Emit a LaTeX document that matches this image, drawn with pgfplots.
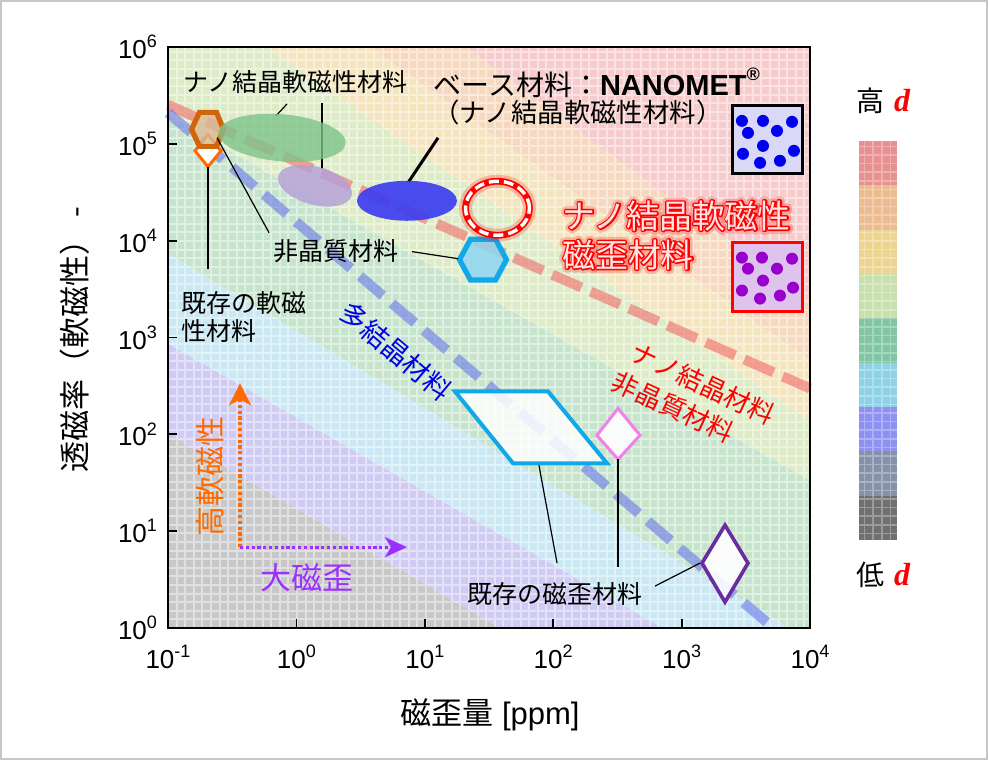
\documentclass[border=0pt]{standalone}
\usepackage{pgfplots}
\pgfplotsset{compat=1.18}
\usepackage{fontspec}
\setmainfont{Liberation Sans}
\newfontfamily\jp{Noto Sans CJK JP}
\newfontfamily\dserif{Liberation Serif}
\usetikzlibrary{arrows.meta}

\definecolor{bgGray}{HTML}{C8C8C8}
\definecolor{bgLav}{HTML}{CFCBF3}
\definecolor{bgLBlue}{HTML}{CAE7F4}
\definecolor{bgGreen}{HTML}{C6E4CC}
\definecolor{bgLGreen}{HTML}{DDEBC7}
\definecolor{bgYellow}{HTML}{F4E5BE}
\definecolor{bgOrange}{HTML}{F6D8BE}
\definecolor{bgPink}{HTML}{F6CBCB}
\definecolor{lineRed}{HTML}{F06A6A}
\definecolor{lineBlue}{HTML}{6A78E8}
\definecolor{hexOrange}{HTML}{D2650A}
\definecolor{hexOrangeFill}{HTML}{D9B995}
\definecolor{softOrange}{HTML}{FF6A00}
\definecolor{hexCyan}{HTML}{10A8E8}
\definecolor{hexCyanFill}{HTML}{8ED6F2}
\definecolor{ellGreen}{HTML}{7DC48A}
\definecolor{ellPurple}{HTML}{B4A0D8}
\definecolor{ellBlue}{HTML}{3E3EF0}
\definecolor{dmPink}{HTML}{F27FEA}
\definecolor{dmPurple}{HTML}{6A2C9E}
\definecolor{txtBlue}{HTML}{0000E6}
\definecolor{arrPurple}{HTML}{9B30FF}
\definecolor{dotBlue}{HTML}{0000F0}
\definecolor{dotPurple}{HTML}{9A00CC}
\definecolor{boxBlue}{HTML}{D9D9F7}
\definecolor{boxPurple}{HTML}{DEC4EC}
\definecolor{cbA}{HTML}{E89090}
\definecolor{cbB}{HTML}{ECBB8F}
\definecolor{cbC}{HTML}{EDD590}
\definecolor{cbD}{HTML}{C9E0AE}
\definecolor{cbE}{HTML}{80C6A2}
\definecolor{cbF}{HTML}{8FD2E8}
\definecolor{cbG}{HTML}{8E90F2}
\definecolor{cbH}{HTML}{8590AA}
\definecolor{cbI}{HTML}{707070}

\newcommand{\tsp}[1]{\raisebox{0.42em}{\fontsize{9}{9}\selectfont #1}}
\newcommand{\redtxt}{\jp\fontsize{16.4}{16.4}\selectfont}
% outlined text through the PDF text render mode
\newcommand{\strokeon}[1]{\special{pdf:literal direct 1 Tr #1 w 1 j}}
\newcommand{\strokeoff}{\special{pdf:literal direct 0 Tr}}

\begin{document}
\begin{tikzpicture}
\useasboundingbox (-84pt,-66pt) rectangle (410pt,314pt);
\draw[black!22, line width=1pt] (-83.5pt,-65.5pt) rectangle (409.5pt,313.5pt);
\begin{axis}[
  at={(0pt,0pt)}, anchor=south west,
  width=321pt, height=290.5pt, scale only axis,
  xmin=-1, xmax=4, ymin=0, ymax=6,
  xtick={-1,0,1,2,3,4}, ytick={0,1,2,3,4,5,6},
  xticklabels={10\tsp{-1},10\tsp{0},10\tsp{1},10\tsp{2},10\tsp{3},10\tsp{4}},
  yticklabels={10\tsp{0},10\tsp{1},10\tsp{2},10\tsp{3},10\tsp{4},10\tsp{5},10\tsp{6}},
  tick align=inside, tick pos=left,
  major tick length=4.5pt,
  every tick/.style={black, line width=0.9pt},
  axis line style={black, line width=1pt},
  ticklabel style={font=\fontsize{13}{13}\selectfont},
  xticklabel style={yshift=-5pt},
  yticklabel style={xshift=-2pt},
  xlabel={{\jp 磁歪量} [ppm]},
  ylabel={透磁率（軟磁性） -},
  xlabel style={font=\fontsize{15.5}{15.5}\selectfont, at={(axis description cs:0.5016,-0.15)}, anchor=center},
  ylabel style={font=\jp\fontsize{15.5}{15.5}\selectfont, at={(axis description cs:-0.145,0.496)}, anchor=center},
  clip=false,
  axis on top,
]
% background bands (d contours)
\addplot[fill=bgGray, draw=none] coordinates {(-1,0) (-1,2.010) (1.586,0)} -- cycle;
\addplot[fill=bgLav, draw=none] coordinates {(-1,2.010) (-1,2.938) (2.855,0) (1.586,0)} -- cycle;
\addplot[fill=bgLBlue, draw=none] coordinates {(-1,2.938) (-1,3.866) (3.844,0) (2.855,0)} -- cycle;
\addplot[fill=bgGreen, draw=none] coordinates {(-1,3.866) (-1,5.289) (4,1.526) (4,0) (3.844,0)} -- cycle;
\addplot[fill=bgLGreen, draw=none] coordinates {(-1,5.289) (-1,6) (-0.237,6) (4,2.144) (4,1.526)} -- cycle;
\addplot[fill=bgYellow, draw=none] coordinates {(-0.237,6) (0.573,6) (4,2.763) (4,2.144)} -- cycle;
\addplot[fill=bgOrange, draw=none] coordinates {(0.573,6) (1.313,6) (4,3.381) (4,2.763)} -- cycle;
\addplot[fill=bgPink, draw=none] coordinates {(1.313,6) (4,6) (4,3.381)} -- cycle;
\draw[white, line width=1pt, opacity=0.45, step=4.3pt] (axis cs:-1,0) grid (axis cs:4,6);

% boundary lines
\addplot[lineRed, opacity=0.6, line width=5pt, dash pattern=on 16pt off 5pt] coordinates {(-1,5.402) (4,2.474)};
\addplot[lineBlue, opacity=0.6, line width=5pt, dash pattern=on 15pt off 6pt] coordinates {(-1,5.320) (3.689,0.03)};

% material regions
\addplot[only marks, mark=*, color=ellGreen, mark size=11.75pt, mark options={draw opacity=0, fill=ellGreen, fill opacity=0.8, rotate=-5, xscale=2.72}] coordinates {(-0.112,5.062)};
\addplot[only marks, mark=*, color=ellPurple, mark size=9.5pt, mark options={draw opacity=0, fill=ellPurple, fill opacity=0.82, rotate=-15, xscale=2}] coordinates {(0.145,4.567)};
\addplot[only marks, mark=*, color=ellBlue, mark size=10pt, mark options={draw opacity=0, fill=ellBlue, fill opacity=0.92, xscale=2.5}] coordinates {(0.861,4.412)};
\addplot[only marks, mark=o, color=red, mark size=13.5pt, mark options={draw=red, draw opacity=0.22, line width=6.5pt, xscale=1.185}] coordinates {(1.566,4.335)};
\addplot[only marks, mark=o, color=red, mark size=13.5pt, mark options={draw=red, line width=3.4pt, xscale=1.185}] coordinates {(1.566,4.335)};
\addplot[only marks, mark=o, color=white, mark size=13.5pt, mark options={draw=white, line width=1.7pt, dash pattern=on 5pt off 2.5pt, xscale=1.185}] coordinates {(1.566,4.335)};

\addplot[draw=softOrange, line width=1.5pt, fill=white, line join=miter] coordinates {(-0.6885,5.093) (-0.587,4.928) (-0.6885,4.763) (-0.790,4.928)} -- cycle;
\addplot[draw=hexOrange, line width=2.6pt, fill=hexOrangeFill, fill opacity=0.8, line join=miter] coordinates {(-0.817,5.149) (-0.755,5.325) (-0.622,5.325) (-0.568,5.149) (-0.622,4.974) (-0.755,4.974)} -- cycle;
\addplot[draw=hexCyan, line width=2.6pt, fill=hexCyanFill, fill opacity=0.85, line join=miter] coordinates {(1.270,3.804) (1.356,4.015) (1.551,4.015) (1.636,3.804) (1.551,3.593) (1.356,3.593)} -- cycle;
\addplot[draw=hexCyan, line width=2pt, fill=white, fill opacity=0.85, line join=miter] coordinates {(1.235,2.443) (1.960,2.443) (2.419,1.701) (1.687,1.701)} -- cycle;
\addplot[draw=dmPink, line width=1.5pt, fill=white, fill opacity=0.9] coordinates {(2.505,2.268) (2.676,1.990) (2.505,1.742) (2.341,1.990)} -- cycle;
\addplot[draw=dmPurple, line width=1.8pt, fill=white, fill opacity=0.9] coordinates {(3.338,1.062) (3.517,0.670) (3.338,0.268) (3.159,0.670)} -- cycle;

% structure icons
\addplot[draw=black, line width=1.5pt, fill=boxBlue] coordinates {(3.400,5.392) (3.945,5.392) (3.945,4.691) (3.400,4.691)} -- cycle;
\addplot[only marks, mark=*, color=dotBlue, mark size=3pt, mark options={draw opacity=0, fill=dotBlue}] coordinates {(3.470,5.237) (3.634,5.237) (3.860,5.227) (3.517,5.113) (3.743,5.134) (3.634,4.979) (3.478,4.897) (3.611,4.804) (3.766,4.825) (3.875,4.928)};
\addplot[draw=red, line width=1.5pt, fill=boxPurple] coordinates {(3.400,3.979) (3.938,3.979) (3.938,3.268) (3.400,3.268)} -- cycle;
\addplot[only marks, mark=*, color=dotPurple, mark size=3pt, mark options={draw opacity=0, fill=dotPurple}] coordinates {(3.470,3.825) (3.626,3.825) (3.860,3.814) (3.517,3.711) (3.743,3.711) (3.634,3.588) (3.470,3.485) (3.611,3.402) (3.766,3.433) (3.868,3.515)};

% leader lines
\addplot[black, line width=0.6pt] coordinates {(-0.618,5.062) (-0.213,4.082)};
\addplot[black, line width=0.6pt] coordinates {(0.900,3.887) (1.259,3.814)};
\addplot[black, line width=0.6pt] coordinates {(-0.6885,4.763) (-0.6885,3.711)};
\addplot[black, line width=0.6pt] coordinates {(-0.159,5.289) (-0.073,5.412)};
\addplot[black, line width=0.6pt] coordinates {(0.199,5.423) (0.199,4.742)};
\addplot[black, line width=1.5pt] coordinates {(0.869,4.598) (1.103,5.062)};
\addplot[black, line width=0.6pt] coordinates {(1.889,1.680) (2.030,0.670)};
\addplot[black, line width=0.6pt] coordinates {(2.505,1.742) (2.505,0.629)};
\addplot[black, line width=0.6pt] coordinates {(3.143,0.670) (2.793,0.433)};

% direction arrows
\addplot[softOrange, line width=1.6pt, dash pattern=on 1.6pt off 1.3pt, -{Stealth[length=11pt,width=11pt,inset=3pt]}] coordinates {(-0.439,0.835) (-0.439,2.526)};
\addplot[arrPurple, line width=1.6pt, dash pattern=on 1.6pt off 1.3pt, -{Stealth[length=11pt,width=10pt,inset=3pt]}] coordinates {(-0.439,0.835) (0.861,0.835)};

% colour key
\addplot[fill=cbA, draw=none] coordinates {(4.382,5.031) (4.678,5.031) (4.678,4.573) (4.382,4.573)} -- cycle;
\addplot[fill=cbB, draw=none] coordinates {(4.382,4.573) (4.678,4.573) (4.678,4.115) (4.382,4.115)} -- cycle;
\addplot[fill=cbC, draw=none] coordinates {(4.382,4.115) (4.678,4.115) (4.678,3.656) (4.382,3.656)} -- cycle;
\addplot[fill=cbD, draw=none] coordinates {(4.382,3.656) (4.678,3.656) (4.678,3.198) (4.382,3.198)} -- cycle;
\addplot[fill=cbE, draw=none] coordinates {(4.382,3.198) (4.678,3.198) (4.678,2.740) (4.382,2.740)} -- cycle;
\addplot[fill=cbF, draw=none] coordinates {(4.382,2.740) (4.678,2.740) (4.678,2.282) (4.382,2.282)} -- cycle;
\addplot[fill=cbG, draw=none] coordinates {(4.382,2.282) (4.678,2.282) (4.678,1.823) (4.382,1.823)} -- cycle;
\addplot[fill=cbH, draw=none] coordinates {(4.382,1.823) (4.678,1.823) (4.678,1.365) (4.382,1.365)} -- cycle;
\addplot[fill=cbI, draw=none] coordinates {(4.382,1.365) (4.678,1.365) (4.678,0.907) (4.382,0.907)} -- cycle;
\coordinate (cbSW) at (axis cs:4.382,0.907);
\coordinate (cbNE) at (axis cs:4.678,5.031);

% labels
\node[font=\jp\fontsize{12.5}{12.5}\selectfont] at (axis cs:-0.007,5.639) {ナノ結晶軟磁性材料};
\node[anchor=west, inner sep=0pt] at (axis cs:1.064,5.629) {{\jp\fontsize{14}{14}\selectfont ベース材料：}{\fontsize{14.5}{14.5}\selectfont\bfseries NANOMET\raisebox{0.5em}{\fontsize{9}{9}\selectfont ®}}};
\node[anchor=west, inner sep=0pt, font=\jp\fontsize{13.2}{13.2}\selectfont] at (axis cs:1.064,5.320) {（ナノ結晶軟磁性材料）};
\node[font=\jp\fontsize{12.5}{12.5}\selectfont] at (axis cs:0.312,3.897) {非晶質材料};
\node[anchor=west, inner sep=0pt, font=\jp\fontsize{12.5}{12.5}\selectfont] at (axis cs:-0.899,3.361) {既存の軟磁};
\node[anchor=west, inner sep=0pt, font=\jp\fontsize{12.5}{12.5}\selectfont] at (axis cs:-0.899,3.072) {性材料};
\node[font=\jp\fontsize{12.5}{12.5}\selectfont] at (axis cs:2.014,0.351) {既存の磁歪材料};
\node[font=\jp\fontsize{13.5}{13.5}\selectfont, text=txtBlue, rotate=-40, inner sep=0pt] at (axis cs:0.776,2.856) {多結晶材料};
\node[font=\jp\fontsize{13}{13}\selectfont, text=red, rotate=-25, inner sep=0pt] at (axis cs:3.167,2.526) {ナノ結晶材料};
\node[font=\jp\fontsize{13}{13}\selectfont, text=red, rotate=-25, inner sep=0pt] at (axis cs:2.933,2.278) {非晶質材料};
\node[font=\jp\fontsize{15}{15}\selectfont, text=softOrange, rotate=90] at (axis cs:-0.673,1.567) {高軟磁性};
\node[font=\jp\fontsize{15.5}{15.5}\selectfont, text=arrPurple] at (axis cs:0.083,0.515) {大磁歪};
\node[font=\fontsize{14}{14}\selectfont] at (axis cs:4.569,5.443) {{\jp 高}\hspace{5pt}{\dserif\bfseries\itshape\color{red}\fontsize{16}{16}\selectfont d}};
\node[font=\fontsize{14}{14}\selectfont] at (axis cs:4.569,0.546) {{\jp 低}\hspace{5pt}{\dserif\bfseries\itshape\color{red}\fontsize{16}{16}\selectfont d}};
\coordinate (rt1) at (axis cs:2.069,4.258);
\coordinate (rt2) at (axis cs:2.069,3.856);
\end{axis}
\draw[white, line width=0.8pt, opacity=0.3, step=4.3pt] (cbSW) grid (cbNE);
% glowing outlined red label
\node[anchor=west, inner sep=0pt, text=red, opacity=0.22, font=\redtxt] at (rt1) {\strokeon{4.2}ナノ結晶軟磁性\strokeoff};
\node[anchor=west, inner sep=0pt, text=red, opacity=0.22, font=\redtxt] at (rt2) {\strokeon{4.2}磁歪材料\strokeoff};
\node[anchor=west, inner sep=0pt, text=red, font=\redtxt] at (rt1) {\strokeon{1.5}ナノ結晶軟磁性\strokeoff};
\node[anchor=west, inner sep=0pt, text=red, font=\redtxt] at (rt2) {\strokeon{1.5}磁歪材料\strokeoff};
\node[anchor=west, inner sep=0pt, text=white!90!red, font=\redtxt] at (rt1) {ナノ結晶軟磁性};
\node[anchor=west, inner sep=0pt, text=white!90!red, font=\redtxt] at (rt2) {磁歪材料};
\end{tikzpicture}
\end{document}
